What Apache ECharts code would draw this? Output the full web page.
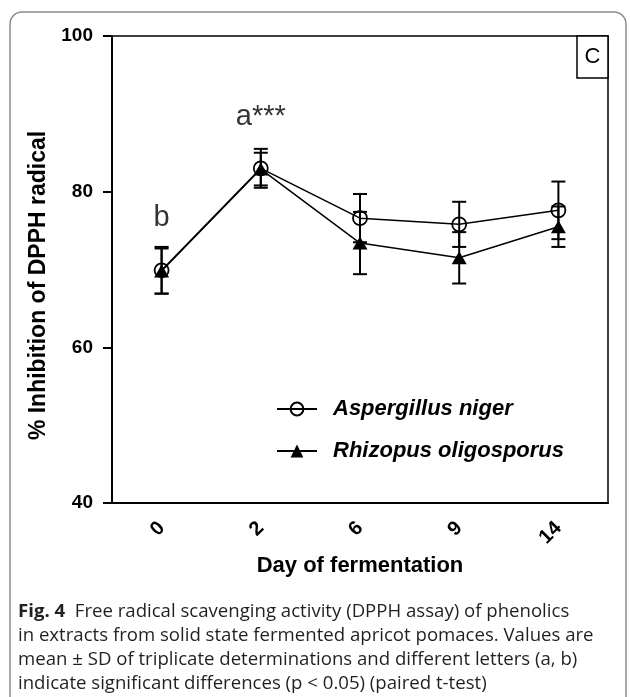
<!DOCTYPE html>
<html>
<head>
<meta charset="utf-8">
<script src="https://cdn.jsdelivr.net/npm/echarts@6/dist/echarts.min.js"></script>
<style>
html,body{margin:0;padding:0;background:#fff;}
#chart{width:630px;height:697px;}
</style>
</head>
<body>
<div id="chart"></div>
<script>
// ---- data ----
var days = ['0', '2', '6', '9', '14'];
var nigerMean = [69.9, 83.0, 76.6, 75.8, 77.6];
var nigerSD   = [3.0, 2.5, 3.1, 2.9, 3.7];
var rhizMean  = [69.8, 82.9, 73.4, 71.5, 75.5];
var rhizSD    = [2.9, 2.1, 4.0, 3.3, 2.6];
var letterDays = ['0', '2'];
var letterY = [76.6, 89.6];
var letterText = ['b', 'a***'];
var yTicks = [40, 60, 80, 100];
var seriesNames = ['Aspergillus niger', 'Rhizopus oligosporus'];
var captionLines = [
  'Free radical scavenging activity (DPPH assay) of phenolics',
  'in extracts from solid state fermented apricot pomaces. Values are',
  'mean \u00b1 SD of triplicate determinations and different letters (a, b)',
  'indicate significant differences (p < 0.05) (paired t-test)'
];

var FONT = '"Liberation Sans", Arial, sans-serif';

function errData(mean, sd) {
  return days.map(function (d, i) { return [i, mean[i] - sd[i], mean[i] + sd[i]]; });
}
function errRender(params, api) {
  var x = api.value(0);
  var lo = api.coord([x, api.value(1)]);
  var hi = api.coord([x, api.value(2)]);
  var hw = 7;
  var st = { stroke: '#000', lineWidth: 2 };
  return {
    type: 'group',
    children: [
      { type: 'line', shape: { x1: hi[0], y1: hi[1], x2: lo[0], y2: lo[1] }, style: st },
      { type: 'line', shape: { x1: hi[0] - hw, y1: hi[1], x2: hi[0] + hw, y2: hi[1] }, style: st },
      { type: 'line', shape: { x1: lo[0] - hw, y1: lo[1], x2: lo[0] + hw, y2: lo[1] }, style: st }
    ]
  };
}

var chart = echarts.init(document.getElementById('chart'), null, { renderer: 'canvas' });
var option = {
  animation: false,
  backgroundColor: '#fff',
  grid: { left: 112, right: 22, top: 36, bottom: 194, show: true, borderColor: '#000', borderWidth: 1.5, backgroundColor: 'transparent' },
  legend: {
    orient: 'vertical', left: 271, top: 393, itemWidth: 40, itemHeight: 16, itemGap: 20,
    textStyle: { fontFamily: FONT, fontSize: 22, fontWeight: 'bold', fontStyle: 'italic', color: '#000', padding: [0, 0, 0, 11] },
    data: seriesNames
  },
  xAxis: {
    type: 'category', data: days, boundaryGap: true,
    name: 'Day of fermentation', nameLocation: 'middle', nameGap: 51,
    nameTextStyle: { fontFamily: FONT, fontSize: 22, fontWeight: 'bold', color: '#000' },
    axisLine: { lineStyle: { color: '#000', width: 2 } },
    axisTick: { alignWithLabel: true, length: 9, lineStyle: { color: '#000', width: 2 } },
    axisLabel: { rotate: 45, margin: 22, fontFamily: FONT, fontSize: 20, fontWeight: 'bold', color: '#000' },
    splitLine: { show: false }
  },
  yAxis: {
    type: 'value', min: 40, max: 100, interval: 20,
    name: '% Inhibition of DPPH radical', nameLocation: 'middle', nameGap: 45,
    nameTextStyle: { fontFamily: FONT, fontSize: 23, fontWeight: 'bold', color: '#000', padding: [0, 32, 0, 0] },
    axisLine: { show: true, lineStyle: { color: '#000', width: 2 } },
    axisTick: { show: true, length: 9, lineStyle: { color: '#000', width: 2 } },
    axisLabel: { margin: 19, fontFamily: FONT, fontSize: 19, fontWeight: 'bold', color: '#000',
      formatter: function (v) { return yTicks.indexOf(v) >= 0 ? String(v) : ''; } },
    splitLine: { show: false }
  },
  series: [
    { type: 'custom', name: 'errN', renderItem: errRender, data: errData(nigerMean, nigerSD), z: 3, silent: true },
    { type: 'custom', name: 'errR', renderItem: errRender, data: errData(rhizMean, rhizSD), z: 3, silent: true },
    {
      type: 'line', name: seriesNames[0], data: nigerMean, symbol: 'circle', symbolSize: 14,
      itemStyle: { color: 'rgba(255,255,255,0)', borderColor: '#000', borderWidth: 1.8 },
      lineStyle: { color: '#000', width: 1.5 }, z: 4
    },
    {
      type: 'line', name: seriesNames[1], data: rhizMean, symbol: 'triangle', symbolSize: [15, 13],
      itemStyle: { color: '#000', borderColor: '#000', borderWidth: 0 },
      lineStyle: { color: '#000', width: 1.5 }, z: 5
    },
    {
      type: 'scatter', name: 'letters', symbolSize: 0, silent: true,
      data: letterDays.map(function (d, i) { return { value: [d, letterY[i]], name: letterText[i] }; }),
      label: { show: true, position: 'inside', formatter: '{b}', fontFamily: FONT, fontSize: 29, color: '#000' },
      z: 6
    }
  ],
  graphic: [
    { type: 'rect', shape: { x: 10, y: 12, width: 616, height: 720, r: 12 }, style: { fill: 'none', stroke: '#8a8a8a', lineWidth: 1.5 }, z: -1 },
    { type: 'rect', shape: { x: 577, y: 36, width: 31, height: 42 }, style: { fill: '#fff', stroke: '#000', lineWidth: 1.5 }, z: 10 },
    { type: 'text', x: 592.5, y: 57, style: { text: 'C', fill: '#000', font: '22px ' + FONT, align: 'center', verticalAlign: 'middle' }, z: 11 },
    {
      type: 'text', left: 18, top: 600, z: 10,
      style: {
        text: '{b|Fig. 4}  ' + captionLines[0] + '\n' + captionLines.slice(1).join('\n'),
        fill: '#231f20', font: '18.6px "Open Sans", sans-serif', lineHeight: 24,
        rich: { b: { font: 'bold 18.6px "Open Sans", sans-serif', fill: '#231f20', lineHeight: 24 } }
      }
    }
  ]
};
chart.setOption(option);
</script>
</body>
</html>
